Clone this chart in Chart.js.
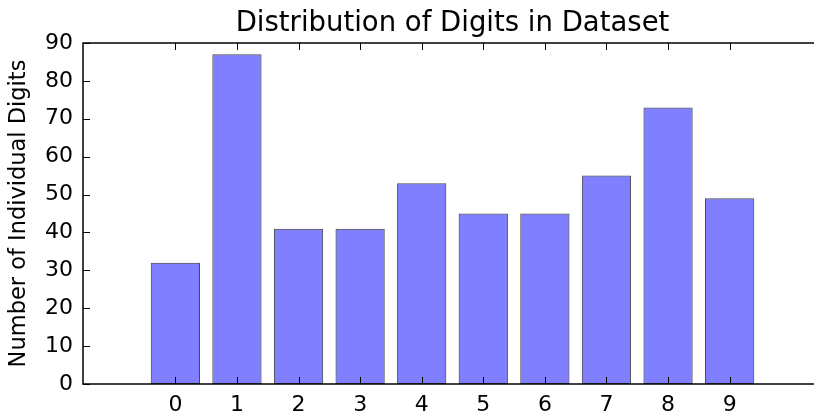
<!DOCTYPE html>
<html>
<head>
<meta charset="utf-8">
<script src="https://cdn.jsdelivr.net/npm/chart.js@4"></script>
<style>
  html, body { margin: 0; padding: 0; background: #fff; overflow: hidden; }
  #wrap { width: 814px; height: 414px; overflow: hidden; }
</style>
</head>
<body>
<div id="wrap"><canvas id="chart" width="822" height="414"></canvas></div>
<script>
const digits = [0, 1, 2, 3, 4, 5, 6, 7, 8, 9];
const counts = [32, 87, 41, 41, 53, 45, 45, 55, 73, 49];
const yTicks = [0, 10, 20, 30, 40, 50, 60, 70, 80, 90];

const FONT = "'DejaVu Sans', sans-serif";
const TICK = 7;

/* matplotlib classic frame: box + inward ticks on all four sides */
const framePlugin = {
  id: "frame",
  afterDatasetsDraw(chart) {
    const { ctx, chartArea: a, scales } = chart;
    ctx.save();
    ctx.strokeStyle = "#000";
    ctx.lineWidth = 1;
    ctx.beginPath();
    digits.forEach((d) => {
      const x = Math.round(scales.x.getPixelForValue(d)) + 0.5;
      ctx.moveTo(x, a.bottom);
      ctx.lineTo(x, a.bottom - TICK);
      ctx.moveTo(x, a.top);
      ctx.lineTo(x, a.top + TICK);
    });
    yTicks.forEach((v) => {
      const y = Math.round(scales.y.getPixelForValue(v)) + 0.5;
      ctx.moveTo(a.left, y);
      ctx.lineTo(a.left + TICK, y);
      ctx.moveTo(a.right, y);
      ctx.lineTo(a.right - TICK, y);
    });
    ctx.stroke();
    ctx.lineWidth = 1.5;
    ctx.strokeRect(a.left, a.top, a.right - a.left, a.bottom - a.top);
    ctx.restore();
  },
};

new Chart(document.getElementById("chart"), {
  type: "bar",
  data: {
    datasets: [
      {
        data: digits.map((d, i) => ({ x: d, y: counts[i] })),
        backgroundColor: "rgba(0,0,255,0.5)",
        borderColor: "#4a4a4a",
        borderWidth: 1,
        borderSkipped: false,
        categoryPercentage: 1,
        barPercentage: 0.8,
      },
    ],
  },
  options: {
    responsive: false,
    animation: false,
    layout: { padding: 0 },
    plugins: {
      legend: { display: false },
      tooltip: { enabled: false },
      title: {
        display: true,
        fullSize: false,
        text: "Distribution of Digits in Dataset",
        color: "#000",
        font: { family: FONT, size: 27.5, weight: "normal" },
        padding: { top: 7, bottom: 3 },
      },
    },
    scales: {
      x: {
        type: "linear",
        offset: false,
        min: -1.5,
        max: 10.5,
        afterBuildTicks: (s) => {
          s.ticks = digits.map((d) => ({ value: d }));
        },
        afterFit: (s) => {
          s.height = 30;
        },
        grid: { display: false, drawTicks: false, offset: false },
        border: { display: false },
        ticks: {
          color: "#000",
          padding: 8,
          font: { family: FONT, size: 22 },
          callback: (v) => String(v),
        },
      },
      y: {
        min: 0,
        max: 90,
        afterBuildTicks: (s) => {
          s.ticks = yTicks.map((v) => ({ value: v }));
        },
        afterFit: (s) => {
          s.width = 83;
        },
        grid: { display: false, drawTicks: false },
        border: { display: false },
        title: {
          display: true,
          text: "Number of Individual Digits",
          color: "#000",
          font: { family: FONT, size: 22.5 },
          padding: { top: 6, bottom: 0 },
        },
        ticks: {
          color: "#000",
          padding: 10,
          font: { family: FONT, size: 22 },
        },
      },
    },
  },
  plugins: [framePlugin],
});
</script>
</body>
</html>
